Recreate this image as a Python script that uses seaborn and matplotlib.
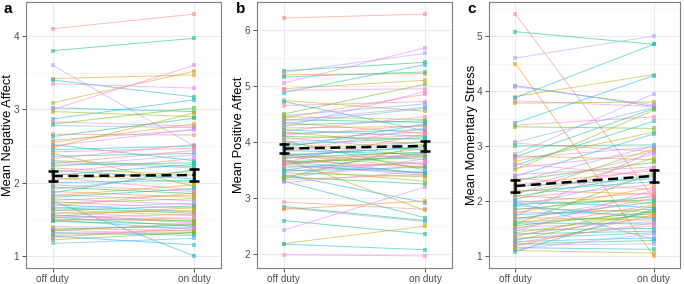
import seaborn as sns
import matplotlib.pyplot as plt
from matplotlib.ticker import MultipleLocator
import pandas as pd
import numpy as np

plt.rcParams['font.family'] = ['Liberation Sans', 'DejaVu Sans']

# duty conditions
conditions = ['off duty', 'on duty']

# panel a: mean negative affect per participant
neg_off = [4.10, 3.80, 3.60, 3.42, 3.40, 3.35, 3.09, 3.02, 3.00, 2.97,
           2.87, 2.83, 2.80, 2.78, 2.66, 2.63, 2.58, 2.55, 2.52, 2.50,
           2.48, 2.45, 2.42, 2.40, 2.36, 2.33, 2.30, 2.28, 2.26, 2.24,
           2.22, 2.20, 2.17, 2.14, 2.12, 2.10, 2.07, 2.04, 2.00, 1.97,
           1.94, 1.91, 1.88, 1.86, 1.84, 1.82, 1.80, 1.78, 1.76, 1.75,
           1.74, 1.72, 1.70, 1.68, 1.66, 1.65, 1.63, 1.62, 1.60, 1.58,
           1.56, 1.55, 1.54, 1.53, 1.52, 1.50, 1.49, 1.48, 1.47, 1.40,
           1.38, 1.36, 1.35, 1.34, 1.32, 1.30, 1.28, 1.27, 1.25, 1.22, 1.17]
neg_on = [4.30, 3.97, 2.50, 3.47, 3.17, 3.29, 3.52, 2.97, 3.60, 2.90,
          3.13, 2.77, 3.02, 2.75, 2.65, 2.88, 2.72, 2.80, 2.30, 2.73,
          2.95, 2.50, 2.47, 1.95, 2.40, 2.52, 2.22, 2.20, 2.44, 2.27,
          2.38, 2.10, 2.05, 2.33, 2.00, 2.25, 1.90, 2.15, 2.03, 1.88,
          1.85, 2.12, 1.80, 2.18, 1.75, 1.97, 1.92, 1.70, 1.83, 1.00,
          1.65, 1.78, 1.60, 1.86, 1.58, 1.72, 1.55, 1.68, 1.50, 1.62,
          1.47, 1.45, 1.66, 1.40, 1.57, 1.48, 1.36, 1.52, 1.43, 1.38,
          1.34, 1.42, 1.30, 1.44, 1.28, 1.35, 1.32, 1.15, 1.39, 1.32, 1.24]

# panel b: mean positive affect per participant
pos_off = [6.21, 5.27, 5.24, 5.20, 5.16, 5.05, 4.95, 4.88, 4.92, 4.74,
           4.72, 4.65, 4.50, 4.47, 4.43, 4.40, 4.38, 4.35, 4.30, 4.27,
           4.25, 4.22, 4.20, 4.18, 4.15, 4.12, 4.10, 4.08, 4.05, 4.02,
           4.00, 3.98, 3.95, 3.92, 3.88, 3.85, 3.82, 3.80, 3.77, 3.75,
           3.72, 3.70, 3.67, 3.65, 3.62, 3.60, 3.58, 3.55, 3.52, 3.50,
           3.48, 3.45, 3.42, 3.40, 3.38, 3.35, 3.33, 3.30, 3.28, 3.77,
           3.75, 3.72, 3.70, 3.65, 3.60, 3.62, 3.48, 2.93, 2.85, 2.83,
           2.80, 2.60, 2.43, 2.19, 2.18, 1.99, 4.45, 3.90, 3.64, 3.36, 4.33]
pos_on = [6.28, 5.42, 5.58, 5.22, 5.25, 5.68, 5.10, 5.38, 4.95, 4.55,
          4.20, 4.72, 5.03, 4.68, 4.85, 4.35, 4.62, 4.15, 4.38, 4.90,
          4.28, 4.10, 4.45, 3.95, 4.22, 4.30, 4.05, 3.85, 4.18, 3.50,
          4.12, 3.75, 4.08, 3.68, 4.00, 3.78, 4.25, 3.60, 3.90, 3.42,
          3.82, 4.02, 3.55, 3.72, 3.40, 3.88, 3.45, 3.62, 3.30, 3.80,
          3.65, 3.38, 2.92, 3.58, 3.25, 3.70, 3.42, 2.65, 3.48, 3.55,
          3.92, 3.75, 2.78, 3.45, 3.80, 3.75, 3.55, 2.80, 2.60, 2.58,
          2.95, 2.36, 3.20, 2.50, 2.08, 1.97, 4.40, 4.32, 4.14, 3.95, 4.60]

# panel c: mean momentary stress per participant
str_off = [5.40, 5.08, 4.60, 4.50, 4.10, 4.08, 3.90, 3.88, 3.82, 3.78,
           3.42, 3.38, 3.35, 3.07, 3.05, 3.00, 2.85, 2.82, 2.80, 2.78,
           2.72, 2.65, 2.60, 2.57, 2.45, 2.42, 2.38, 2.35, 2.30, 2.27,
           2.24, 2.20, 2.17, 2.14, 2.10, 2.08, 2.05, 2.02, 2.00, 1.97,
           1.94, 1.90, 1.87, 1.84, 1.80, 1.78, 1.75, 1.72, 1.70, 1.68,
           1.65, 1.62, 1.60, 1.57, 1.55, 1.52, 1.50, 1.47, 1.45, 1.42,
           1.40, 1.38, 1.35, 1.32, 1.30, 1.28, 1.26, 1.24, 1.22, 1.20,
           1.18, 1.15, 1.12, 1.10, 1.08, 2.48, 2.12, 1.92, 2.68, 1.58, 1.98]
str_on = [2.05, 4.85, 5.00, 1.00, 3.72, 3.75, 4.30, 4.85, 3.72, 3.80,
          4.28, 3.53, 3.32, 3.70, 2.90, 3.02, 3.95, 2.75, 3.68, 2.98,
          3.25, 3.45, 2.88, 3.65, 3.22, 2.20, 2.70, 3.00, 2.55, 2.40,
          2.85, 2.12, 2.35, 2.60, 1.95, 2.48, 2.30, 2.78, 1.88, 2.15,
          2.02, 2.45, 1.80, 2.08, 1.75, 2.25, 1.85, 2.92, 1.65, 1.98,
          2.10, 1.72, 1.58, 2.05, 1.80, 1.62, 1.93, 1.50, 2.20, 1.78,
          1.45, 1.70, 1.90, 1.42, 1.55, 1.82, 1.33, 1.60, 1.28, 1.22,
          1.75, 1.12, 1.40, 1.05, 1.85, 2.62, 2.95, 1.68, 2.45, 2.52, 1.30]

panels = [
    ('a', 'Mean Negative Affect', neg_off, neg_on),
    ('b', 'Mean Positive Affect', pos_off, pos_on),
    ('c', 'Mean Momentary Stress', str_off, str_on),
]

n = len(neg_off)
pal = sns.husl_palette(n, h=0.04, s=1.0, l=0.7)
# mix hues across participants like ggplot's id ordering
colors = [pal[(i * 29) % n] for i in range(n)]

fig = plt.figure(figsize=(6.85, 2.84), dpi=100)
boxes = [[26, 221], [257, 452], [489, 680]]
letter_x = [3, 236, 467]

for (letter, ylabel, off, on), (x0, x1), lx in zip(panels, boxes, letter_x):
    w = x1 - x0
    ax = fig.add_axes([x0 / 685, 16 / 284, w / 685, 266 / 284])
    df = pd.DataFrame({
        'pid': list(range(n)) * 2,
        'x': [0] * n + [1] * n,
        'value': off + on,
    })
    sns.lineplot(data=df, x='x', y='value', hue='pid', palette=colors,
                 estimator=None, legend=False, ax=ax, linewidth=0.7,
                 alpha=0.55, marker='s', markersize=2.2, markeredgewidth=0,
                 zorder=2)
    sns.lineplot(data=df, x='x', y='value', errorbar='se', err_style='bars',
                 color='black', linestyle=(0, (4, 2.2)), linewidth=1.8,
                 ax=ax, zorder=5,
                 err_kws={'capsize': 3.5, 'elinewidth': 1.8, 'capthick': 1.8})

    lo = min(off + on)
    hi = max(off + on)
    pad = (hi - lo) * 0.05
    ax.set_ylim(lo - pad, hi + pad)
    ax.set_xlim(-0.19, 1.19)
    ax.set_xticks([0, 1])
    ax.set_xticklabels(conditions)
    ax.yaxis.set_major_locator(MultipleLocator(1))
    ax.yaxis.set_minor_locator(MultipleLocator(0.5))
    ax.grid(which='major', color='#EBEBEB', linewidth=0.8, zorder=0)
    ax.grid(which='minor', axis='y', color='#F3F3F3', linewidth=0.5, zorder=0)
    ax.set_axisbelow(True)
    ax.tick_params(which='major', length=2.8, width=0.6, color='#333333',
                   labelsize=7.2, labelcolor='#4D4D4D', pad=2)
    ax.tick_params(axis='x', pad=1.5)
    ax.tick_params(which='minor', length=0)
    for s in ax.spines.values():
        s.set_color('#7F7F7F')
        s.set_linewidth(0.8)
    ax.set_xlabel('')
    ax.set_ylabel(ylabel, fontsize=9.3)
    ax.yaxis.set_label_coords(-11.5 / w, 0.5)
    fig.text(lx / 685, 1 - 2 / 284, letter, fontsize=11,
             fontweight='bold', ha='left', va='top')

fig.savefig('out.png', dpi=100)
